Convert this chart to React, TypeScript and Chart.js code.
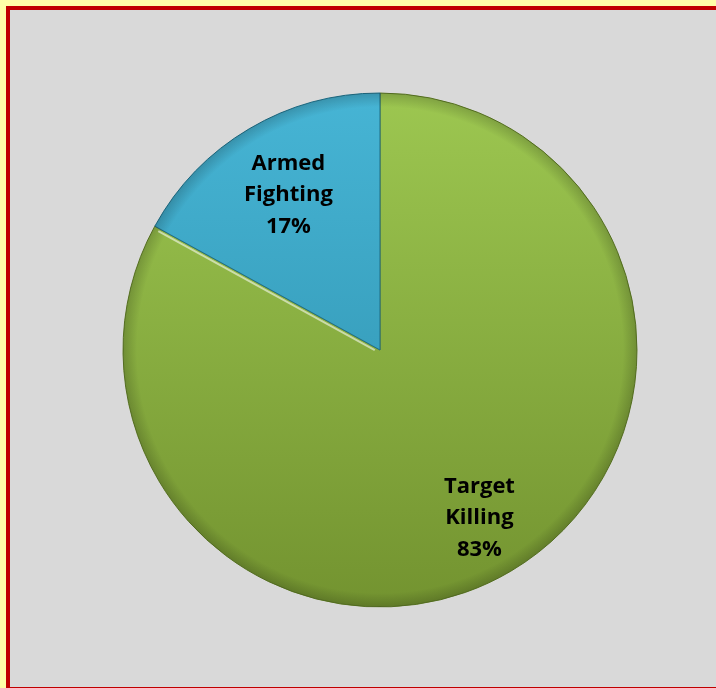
import React, { useEffect, useRef } from "react";
import { Chart, registerables } from "chart.js";

Chart.register(...registerables);

const categories = ["Target Killing", "Armed Fighting"];
const labelLines = [["Target", "Killing"], ["Armed", "Fighting"]];
const values = [83, 17];
const percentLabels = ["83%", "17%"];

const topColors = ["#9cc650", "#46b4d4"];
const bottomColors = ["#72922f", "#2b8ca8"];
const labelDist = [0.76, 0.7];

export default function App() {
  const ref = useRef<HTMLCanvasElement | null>(null);

  useEffect(() => {
    document.body.style.margin = "0";
    document.body.style.background = "#ffffa8";
    const canvas = ref.current;
    if (!canvas) return;

    const labelPlugin = {
      id: "sliceLabels",
      afterDatasetsDraw(chart: any) {
        const ctx = chart.ctx;
        const meta = chart.getDatasetMeta(0);
        const arc0 = meta.data[0];
        const cx = arc0.x;
        const cy = arc0.y;
        const r = arc0.outerRadius;
        // bevel ring
        ctx.save();
        const g = ctx.createRadialGradient(cx, cy, r - 14, cx, cy, r);
        g.addColorStop(0, "rgba(0,0,0,0)");
        g.addColorStop(1, "rgba(0,0,0,0.18)");
        ctx.beginPath();
        ctx.arc(cx, cy, r, 0, Math.PI * 2);
        ctx.arc(cx, cy, r - 14, 0, Math.PI * 2, true);
        ctx.fillStyle = g;
        ctx.fill();
        ctx.restore();

        // highlight along slice boundary
        ctx.save();
        const b = meta.data[1].startAngle;
        ctx.strokeStyle = "rgba(255,255,255,0.55)";
        ctx.lineWidth = 2;
        ctx.beginPath();
        ctx.moveTo(cx + Math.cos(b) * 6, cy + Math.sin(b) * 6 + 3);
        ctx.lineTo(cx + Math.cos(b) * (r - 4), cy + Math.sin(b) * (r - 4) + 3);
        ctx.stroke();
        ctx.restore();

        meta.data.forEach((arc: any, i: number) => {
          const mid = (arc.startAngle + arc.endAngle) / 2;
          const d = arc.outerRadius * labelDist[i];
          const x = cx + Math.cos(mid) * d;
          const y = cy + Math.sin(mid) * d;
          const lines = [...labelLines[i], percentLabels[i]];
          ctx.save();
          ctx.font = "bold 22px 'Open Sans', sans-serif";
          ctx.fillStyle = "#000";
          ctx.textAlign = "center";
          ctx.textBaseline = "middle";
          const lh = 31.5;
          lines.forEach((t, j) => {
            ctx.fillText(t, x, y + (j - (lines.length - 1) / 2) * lh);
          });
          ctx.restore();
        });
      },
    };

    const chart = new Chart(canvas, {
      type: "pie",
      data: {
        labels: categories,
        datasets: [
          {
            data: values,
            backgroundColor: (c: any) => {
              const ch = c.chart;
              const area = ch.chartArea;
              if (!area) return topColors[c.dataIndex];
              const g = ch.ctx.createLinearGradient(0, area.top + 90, 0, area.bottom - 70);
              g.addColorStop(0, topColors[c.dataIndex]);
              g.addColorStop(1, bottomColors[c.dataIndex]);
              return g;
            },
            borderColor: ["#5e7a26", "#1f6d85"],
            borderWidth: 1,
          },
        ],
      },
      options: {
        animation: false,
        responsive: false,
        radius: 257,
        layout: { padding: 0 },
        plugins: {
          legend: { display: false },
          tooltip: { enabled: false },
        },
      },
      plugins: [labelPlugin],
    });
    return () => chart.destroy();
  }, []);

  return (
    <div style={{ position: "relative", width: 716, height: 688, overflow: "hidden", background: "#ffffa8" }}>
      <div
        style={{
          position: "absolute",
          left: 6,
          top: 6,
          width: 740,
          height: 677,
          border: "4px solid #c00000",
          background: "#d9d9d9",
          overflow: "hidden",
        }}
      >
        <canvas ref={ref} width={740} height={680} style={{ position: "absolute", left: 0, top: 0 }} />
      </div>
    </div>
  );
}
